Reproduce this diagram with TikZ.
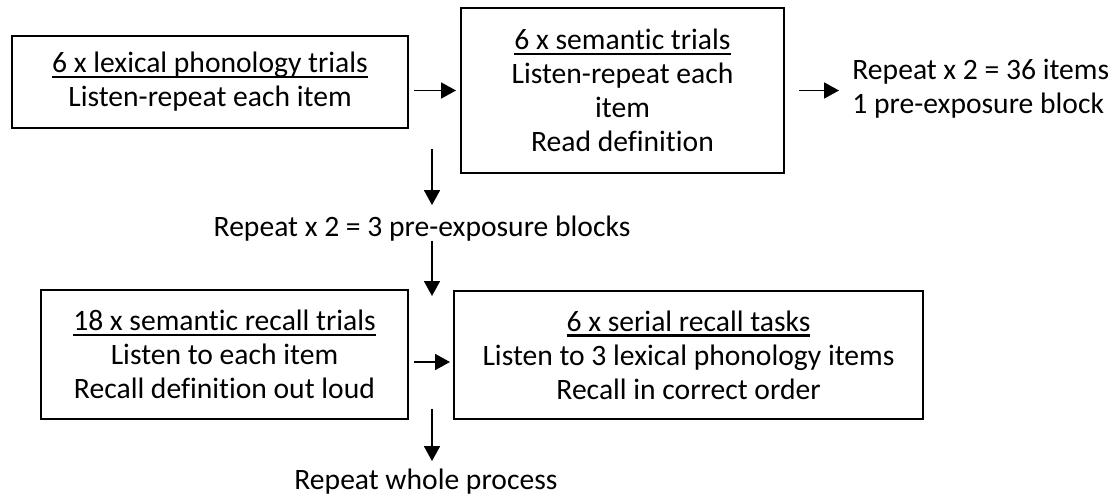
\documentclass[tikz,border=0pt]{standalone}
\usepackage{fontspec}
\setmainfont[Ligatures=NoCommon]{Carlito}
\usetikzlibrary{arrows.meta,positioning}

% underlined heading line of a box
\newcommand{\ulhead}[1]{\setbox0\hbox{#1}\rlap{\rule[-2.8pt]{\wd0}{1.3pt}}\box0}

\begin{document}
\begin{tikzpicture}[
    x=0.5pt, y=-0.5pt,
    font=\fontsize{14.8pt}{17pt}\selectfont,
    box/.style={rectangle, draw=black, line width=1pt, align=center, inner sep=0pt},
    note/.style={inner sep=0pt},
    arrow/.style={-{Triangle[length=7.5pt,width=8pt]}, line width=0.9pt}
]
\useasboundingbox (0,0) rectangle (1119,498);

% Boxes
\node [box, minimum width=198pt, minimum height=46pt] (lexical) at (210,82) {\ulhead{6 x lexical phonology trials}\\Listen-repeat each item};
\node [box, minimum width=161.5pt, minimum height=82.5pt] (semantic) at (622.5,90.5) {\ulhead{6 x semantic trials}\\Listen-repeat each\\item\\Read definition};
\node [box, minimum width=183.5pt, minimum height=64.5pt] (recall) at (224.5,354.5) {\ulhead{18 x semantic recall trials}\\Listen to each item\\Recall definition out loud};
\node [box, minimum width=234.5pt, minimum height=64pt] (serial) at (688.5,355) {\ulhead{6 x serial recall tasks}\\Listen to 3 lexical phonology items\\Recall in correct order};

% Notes
\node [note, align=left, anchor=west] (items) at (852,89) {Repeat x 2 = 36 items\\1 pre-exposure block};
\node [note, anchor=base] (repblocks) at (422,236) {Repeat x 2 = 3 pre-exposure blocks};
\node [note, anchor=base west] (repwhole) at (294,489) {Repeat whole process};
\coordinate (loopin) at (432,149);

% Arrows
\draw [arrow] ([xshift=2.5pt]lexical.east |- semantic.west) -- ([xshift=-2pt]semantic.west);
\draw [arrow] ([xshift=7pt]semantic.east) -- ([xshift=-6.5pt]items.west |- semantic.east);
\draw [arrow] (loopin) -- ([yshift=5pt]loopin |- repblocks.north);
\draw [arrow] (repblocks.south -| loopin) -- ([yshift=-3.5pt]recall.north -| loopin);
\draw [arrow] ([xshift=2.5pt,yshift=-3.75pt]recall.east) coordinate (mid) -- ([xshift=-1.5pt]serial.west |- mid);
\draw [arrow] ([yshift=5.5pt]recall.south -| loopin) -- ([yshift=3.5pt]repwhole.north -| loopin);

\end{tikzpicture}
\end{document}
